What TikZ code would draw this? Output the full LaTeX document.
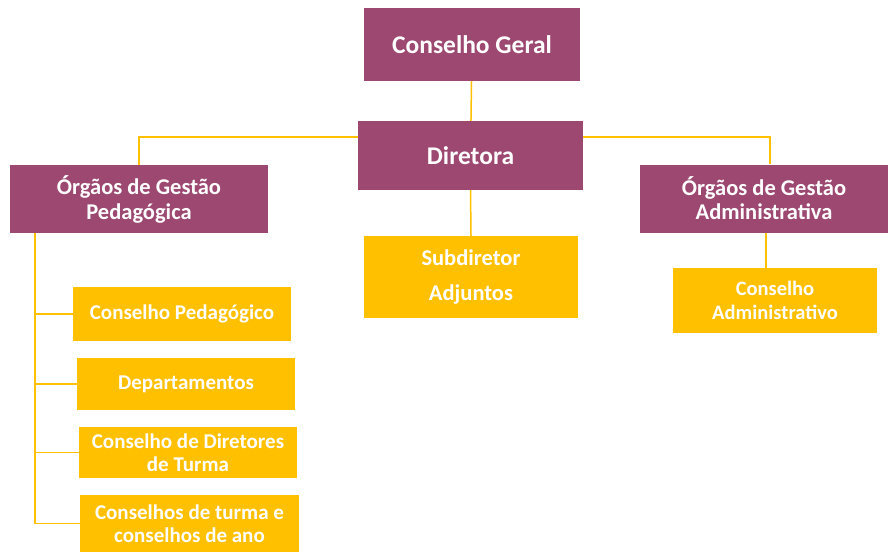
\documentclass[tikz,border=0pt]{standalone}
\usepackage{fontspec}
\setmainfont{Carlito}
\usepackage{tikz}

\definecolor{plum}{RGB}{157,72,113}
\definecolor{amber}{RGB}{255,192,0}

\begin{document}
\begin{tikzpicture}[
    x=1pt,y=-1pt,
    head/.style={fill=plum, text=white, font=\bfseries, inner sep=0, align=center},
    unit/.style={fill=amber, text=white, font=\bfseries, inner sep=0, align=center},
    line/.style={amber, line width=1.5pt}
    ]
    \useasboundingbox (0, 0) rectangle (888, 552);
    % top of the chart
    \node[head, minimum width=216, minimum height=73, font=\bfseries\fontsize{25.5}{30}\selectfont] (cg) at (472, 44.5) {Conselho Geral};
    \node[head, minimum width=225, minimum height=69, font=\bfseries\fontsize{25.5}{30}\selectfont] (dir) at (470.5, 155.5) {Diretora};
    \node[head, minimum width=258, minimum height=68, font=\bfseries\fontsize{22.5}{25}\selectfont] (ogp) at (139, 199) {Órgãos de Gestão\\Pedagógica};
    \node[head, minimum width=248, minimum height=68, font=\bfseries\fontsize{22.5}{24}\selectfont] (oga) at (764, 198.5) {Órgãos de Gestão\\Administrativa};
    % second level
    \node[unit, minimum width=214, minimum height=82, font=\bfseries\fontsize{22.5}{35}\selectfont] (sub) at (471, 277) {Subdiretor\\Adjuntos};
    \node[unit, minimum width=204, minimum height=65, font=\bfseries\fontsize{20.5}{24}\selectfont] (ca) at (775, 300.5) {Conselho\\Administrativo};
    \node[unit, minimum width=218, minimum height=54, font=\bfseries\fontsize{21}{23}\selectfont] (cp) at (182, 314) {Conselho Pedagógico};
    \node[unit, minimum width=218, minimum height=52, font=\bfseries\fontsize{21}{23}\selectfont] (dep) at (186, 384) {Departamentos};
    \node[unit, minimum width=218, minimum height=51, font=\bfseries\fontsize{21}{23}\selectfont] (cdt) at (188, 452.5) {Conselho de Diretores\\de Turma};
    \node[unit, minimum width=219, minimum height=57, font=\bfseries\fontsize{21}{23}\selectfont] (cta) at (189.5, 523.5) {Conselhos de turma e\\conselhos de ano};
    % connectors
    \draw[line] (cg) -- (dir);
    \draw[line] ([yshift=-16]dir.north west) -| (ogp.north);
    \draw[line] ([yshift=-16]dir.north east) -| ([xshift=6]oga.north);
    \draw[line] (dir.south) -- (sub.north);
    \draw[line] ([xshift=2]oga.south) -- ([xshift=2]oga.south |- ca.north);
    \coordinate (trunk) at ([xshift=25]ogp.south west);
    \draw[line] (trunk) |- (cp.west);
    \draw[line] (trunk) |- (dep.west);
    \draw[line] (trunk) |- (cdt.west);
    \draw[line] (trunk) |- (cta.west);
  \end{tikzpicture}
\end{document}
